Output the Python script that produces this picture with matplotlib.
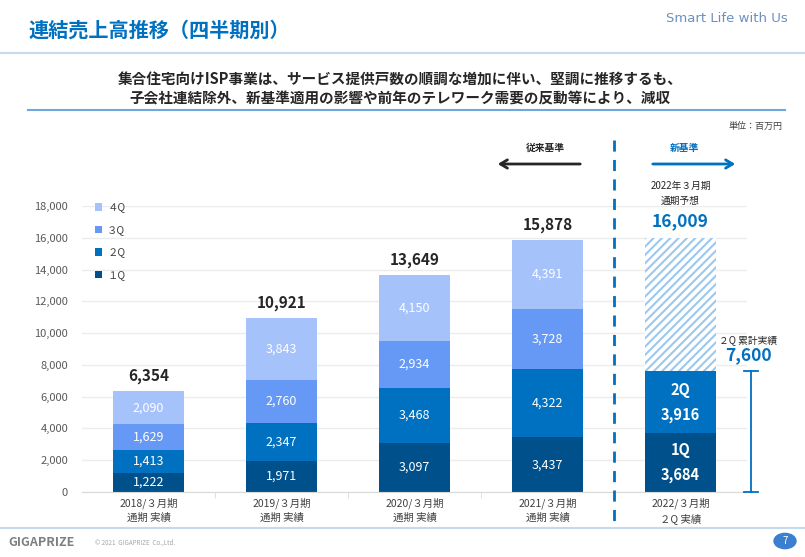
import numpy as np
import matplotlib.pyplot as plt
from matplotlib.patches import Circle

plt.rcParams['font.family'] = ['Noto Sans CJK JP', 'DejaVu Sans']
plt.rcParams['hatch.linewidth'] = 1.5

# データ（百万円）
periods = ["2018/３月期\n通期 実績", "2019/３月期\n通期 実績", "2020/３月期\n通期 実績",
           "2021/３月期\n通期 実績", "2022/３月期\n２Q 実績"]
q1 = [1222, 1971, 3097, 3437, 3684]
q2 = [1413, 2347, 3468, 4322, 3916]
q3 = [1629, 2760, 2934, 3728]
q4 = [2090, 3843, 4150, 4391]
totals = [6354, 10921, 13649, 15878]
forecast = 16009
cum_2q = 7600
yticks = [0, 2000, 4000, 6000, 8000, 10000, 12000, 14000, 16000, 18000]

c1, c2, c3, c4 = '#00508c', '#0070c0', '#6699f5', '#a6c2fb'
blue = '#0070c0'

fig = plt.figure(figsize=(8.05, 5.57), dpi=100)
ax = fig.add_axes([82 / 805, 65 / 557, 665 / 805, 286 / 557])

x = np.arange(len(periods))
w = 0.53
past = x[:4]
b1 = np.array(q1[:4])
b2 = np.array(q2[:4])
b3 = np.array(q3)
b4 = np.array(q4)
ax.bar(past, b1, w, color=c1, label='１Q', zorder=2)
ax.bar(past, b2, w, bottom=b1, color=c2, label='２Q', zorder=2)
ax.bar(past, b3, w, bottom=b1 + b2, color=c3, label='３Q', zorder=2)
ax.bar(past, b4, w, bottom=b1 + b2 + b3, color=c4, label='４Q', zorder=2)

for i in range(4):
    bottoms = [0, b1[i], b1[i] + b2[i], b1[i] + b2[i] + b3[i]]
    vals = [b1[i], b2[i], b3[i], b4[i]]
    for b, v in zip(bottoms, vals):
        ax.text(past[i], b + v / 2, f"{v:,}", ha='center', va='center',
                color='white', fontsize=9, zorder=3)
    ax.text(past[i], totals[i] + 450, f"{totals[i]:,}", ha='center', va='bottom',
            fontsize=11, fontweight='bold', color='#262626')

# 2022年3月期
ax.bar(x[4], q1[4], w, color=c1, zorder=2)
ax.bar(x[4], q2[4], w, bottom=q1[4], color=c2, zorder=2)
ax.bar(x[4], forecast - cum_2q, w, bottom=cum_2q, facecolor='white',
       edgecolor='#9dc8ee', hatch='////', linewidth=0, zorder=2)
ax.text(x[4], q1[4] / 2, f"1Q\n{q1[4]:,}", ha='center', va='center', color='white',
        fontsize=10.5, fontweight='bold', linespacing=1.7, zorder=3)
ax.text(x[4], q1[4] + q2[4] / 2, f"2Q\n{q2[4]:,}", ha='center', va='center',
        color='white', fontsize=10.5, fontweight='bold', linespacing=1.7, zorder=3)
ax.text(x[4], 17050, f"{forecast:,}", ha='center', va='center',
        fontsize=12.5, fontweight='bold', color=blue)
ax.text(x[4], 19250, "2022年３月期", ha='center', va='center', fontsize=7, color='#262626')
ax.text(x[4], 18350, "通期予想", ha='center', va='center', fontsize=7, color='#262626')

# 2Q累計の括弧
xb = 4.53
ax.plot([xb, xb], [0, cum_2q], color=blue, lw=1.3, clip_on=False, zorder=3)
ax.plot([xb - 0.05, xb + 0.05], [0, 0], color=blue, lw=1.3, clip_on=False, zorder=3)
ax.plot([xb - 0.05, xb + 0.05], [cum_2q, cum_2q], color=blue, lw=1.3, clip_on=False, zorder=3)
ax.text(4.51, 9550, "２Q 累計実績", ha='center', va='center', fontsize=7, color='#262626')
ax.text(4.51, 8600, f"{cum_2q:,}", ha='center', va='center', fontsize=12.5,
        fontweight='bold', color=blue)

ax.set_xlim(-0.5, 4.5)
ax.set_ylim(0, 18000)
ax.set_yticks(yticks)
ax.set_yticklabels([f"{v:,}" for v in yticks], fontsize=8, color='#595959')
ax.set_xticks(x)
ax.set_xticklabels(periods, fontsize=7.5, color='#404040', linespacing=1.45)
ax.set_xticks(np.arange(0.5, 4, 1), minor=True)
ax.tick_params(axis='y', which='major', length=0, pad=10)
ax.tick_params(axis='x', which='major', length=0, pad=4)
ax.tick_params(axis='x', which='minor', length=4, color='#d9d9d9')
ax.grid(axis='y', color='#ececec', lw=1, zorder=0)
for s in ['top', 'right', 'left']:
    ax.spines[s].set_visible(False)
ax.spines['bottom'].set_color('#d9d9d9')
ax.set_axisbelow(True)

h, l = ax.get_legend_handles_labels()
ax.legend(h[::-1], l[::-1], loc='upper left', bbox_to_anchor=(0.005, 1.045), frameon=False,
          fontsize=7.5, handlelength=0.7, handleheight=0.7, handletextpad=0.5,
          labelspacing=1.2, labelcolor='#404040')

# 区切り線・矢印
fig.add_artist(plt.Line2D([614 / 805, 614 / 805], [1 - 140 / 557, 1 - 525 / 557],
                          color=blue, lw=2, ls=(0, (4, 3))))
fig.text(545 / 805, 1 - 148 / 557, "従来基準", ha='center', va='center', fontsize=7,
         fontweight='bold', color='#262626')
fig.text(684 / 805, 1 - 148 / 557, "新基準", ha='center', va='center', fontsize=7,
         fontweight='bold', color=blue)
ax.annotate('', xy=(738 / 805, 1 - 164 / 557), xytext=(650 / 805, 1 - 164 / 557),
            xycoords='figure fraction', textcoords='figure fraction',
            arrowprops=dict(arrowstyle='->,head_width=0.3,head_length=0.5', color=blue, lw=2))
ax.annotate('', xy=(495 / 805, 1 - 164 / 557), xytext=(583 / 805, 1 - 164 / 557),
            xycoords='figure fraction', textcoords='figure fraction',
            arrowprops=dict(arrowstyle='->,head_width=0.3,head_length=0.5', color='#262626', lw=2))
fig.text(782 / 805, 1 - 126 / 557, "単位：百万円", ha='right', va='center', fontsize=6.5, color='#404040')

# ヘッダー
fig.text(28 / 805, 1 - 30 / 557, "連結売上高推移（四半期別）", ha='left', va='center',
         fontsize=14.5, fontweight='bold', color=blue)
fig.text(788 / 805, 1 - 18 / 557, "Smart Life with Us", ha='right', va='center',
         fontsize=9.5, color='#6b8fbf', family='DejaVu Sans')
fig.add_artist(plt.Line2D([0, 1], [1 - 53 / 557] * 2, color='#c5d9ef', lw=1.5))
fig.text(400 / 805, 1 - 80 / 557, "集合住宅向けISP事業は、サービス提供戸数の順調な増加に伴い、堅調に推移するも、",
         ha='center', va='center', fontsize=10.5, fontweight='bold', color='#262626')
fig.text(400 / 805, 1 - 98 / 557, "子会社連結除外、新基準適用の影響や前年のテレワーク需要の反動等により、減収",
         ha='center', va='center', fontsize=10.5, fontweight='bold', color='#262626')
fig.add_artist(plt.Line2D([28 / 805, 785 / 805], [1 - 110 / 557] * 2, color='#6fa8dc', lw=1.5))

# フッター
fig.add_artist(plt.Line2D([0, 1], [1 - 528 / 557] * 2, color='#c5d9ef', lw=1.5))
fig.text(8 / 805, 1 - 543 / 557, "GIGAPRIZE", ha='left', va='center', fontsize=9,
         fontweight='bold', color='#7f7f7f')
fig.text(95 / 805, 1 - 543 / 557, "© 2021  GIGAPRIZE  Co.,Ltd.", ha='left', va='center',
         fontsize=4.5, color='#a6a6a6')
fig.add_artist(Circle((785 / 805, 1 - 541 / 557), 11 / 805, transform=fig.transFigure,
                      color='#3b7fd0'))
fig.text(785 / 805, 1 - 541 / 557, "7", ha='center', va='center', fontsize=7, color='white')

fig.savefig('out.png', dpi=100)
